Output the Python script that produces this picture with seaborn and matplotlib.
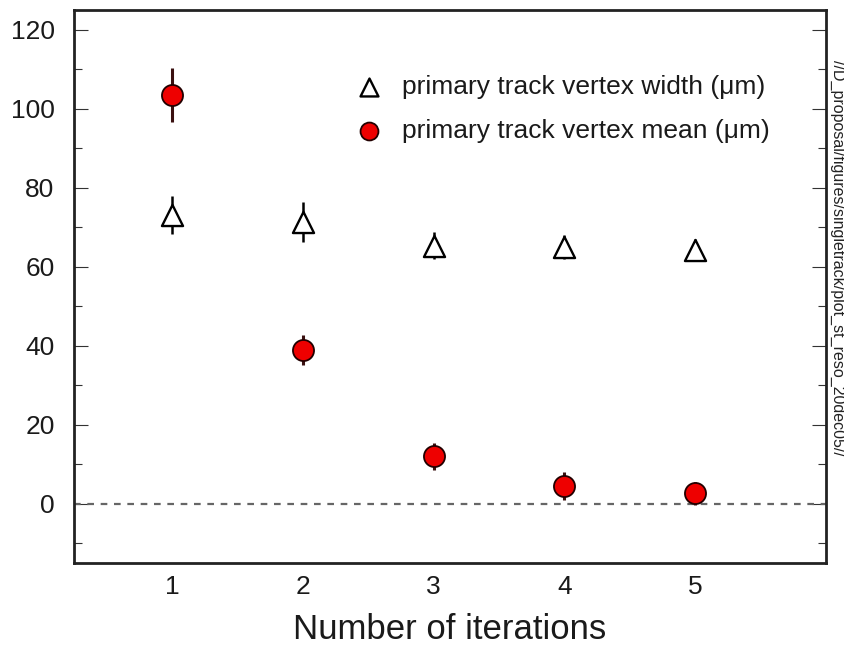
import matplotlib
matplotlib.use("Agg")
import matplotlib.pyplot as plt
import seaborn as sns
import pandas as pd
from matplotlib.ticker import MultipleLocator

iterations = [1, 2, 3, 4, 5]
width_vals = [73.0, 71.3, 65.3, 65.0, 64.2]
width_errs = [4.8, 5.0, 3.4, 3.1, 2.8]
mean_vals = [103.4, 39.0, 12.0, 4.5, 2.6]
mean_errs = [6.8, 3.8, 3.5, 3.5, 2.9]
xticklabels = ["1", "2", "3", "4", "5"]
label_width = "primary track vertex width (\u03bcm)"
label_mean = "primary track vertex mean (\u03bcm)"
xlabel = "Number of iterations"
side_note = "//D_proposal/figures/singletrack/plot_st_reso_20dec05//"

sns.set_theme(style="white")
plt.rcParams['font.family'] = ['Liberation Sans', 'DejaVu Sans']

df_w = pd.DataFrame({"x": iterations, "y": width_vals, "e": width_errs})
df_m = pd.DataFrame({"x": iterations, "y": mean_vals, "e": mean_errs})

fig = plt.figure(figsize=(8.45, 6.46), dpi=100)
ax = fig.add_axes([74/845, 1-563/646, (826-74)/845, (563-10)/646])

ax.axhline(0, color="#666666", linestyle=(0, (3, 3)), linewidth=1.6, zorder=1)

ax.errorbar(df_w["x"], df_w["y"], yerr=df_w["e"], fmt="none", ecolor="black",
            elinewidth=1.8, capsize=0, zorder=2)
ax.errorbar(df_m["x"], df_m["y"], yerr=df_m["e"], fmt="none", ecolor="#3a1010",
            elinewidth=2.2, capsize=0, zorder=2)

sns.scatterplot(data=df_w, x="x", y="y", ax=ax, marker="^", s=230,
                facecolor="white", edgecolor="black", linewidth=1.7,
                label=label_width, zorder=3)
sns.scatterplot(data=df_m, x="x", y="y", ax=ax, marker="o", s=230,
                color="#ee0000", edgecolor="#220000", linewidth=1.3,
                label=label_mean, zorder=4)

ax.set_xlim(0.25, 6.0)
ax.set_ylim(-15, 125)
ax.set_xticks(iterations)
ax.set_xticklabels(xticklabels)
ax.yaxis.set_major_locator(MultipleLocator(20))
ax.yaxis.set_minor_locator(MultipleLocator(10))
ax.tick_params(axis="y", which="major", direction="in", length=10, width=0.8,
               left=True, right=True, labelsize=19, colors="#333333",
               labelcolor="#1a1a1a", pad=14)
ax.tick_params(axis="y", which="minor", direction="in", length=6, width=0.8,
               left=True, right=True, colors="#333333")
ax.tick_params(axis="x", which="both", length=0, labelsize=19, pad=9,
               labelcolor="#1a1a1a")
ax.set_xlabel(xlabel, fontsize=25, labelpad=10, color="#1a1a1a")
ax.set_ylabel("")
for sp in ax.spines.values():
    sp.set_visible(True)
    sp.set_linewidth(2.0)
    sp.set_color("#222222")

leg = ax.legend(loc="upper left", bbox_to_anchor=(0.343, 0.925), frameon=False,
                fontsize=19, handletextpad=0.75, labelspacing=0.75,
                handlelength=1.0, markerscale=0.85)
for t in leg.get_texts():
    t.set_color("#1a1a1a")

fig.text(838/845, 1-258/646, side_note, rotation=-90, fontsize=11.5,
         ha="center", va="center", color="#222222")

fig.savefig("out.png", dpi=100)
